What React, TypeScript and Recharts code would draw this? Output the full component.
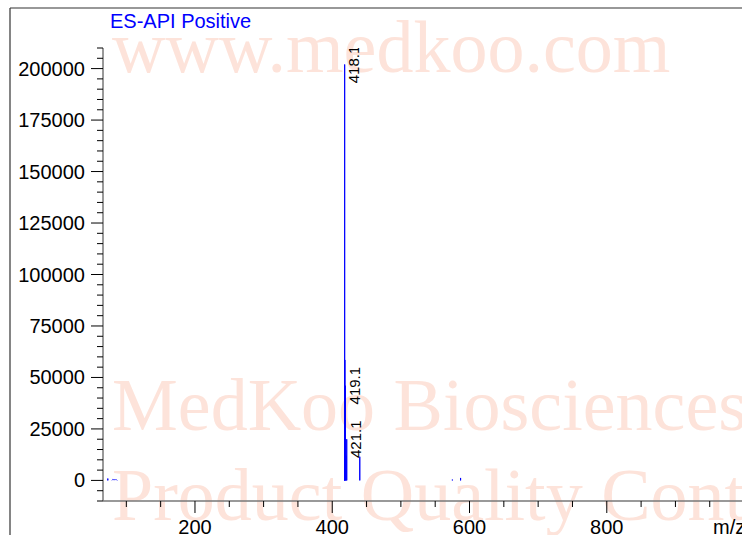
import React from 'react';
import { ComposedChart, Line, Scatter, XAxis, YAxis } from 'recharts';

// m/z sticks (centroid peaks)
const peakMz = [73, 417.9, 418.1, 418.4, 419.1, 420.1, 421.1, 440.1, 575, 587];
const peakIntensity = [900, 26000, 202000, 58500, 46000, 12000, 20000, 11500, 400, 1200];

// low-level baseline noise segment near m/z 80
const noiseMz = [79, 80, 82, 84, 86, 87];
const noiseIntensity = [0, 500, 300, 400, 300, 0];

// annotated peaks
const labelMz = [418.1, 419.1, 421.1];
const labelIntensity = [202000, 46000, 20000];
const labelText = ['418.1', '419.1', '421.1'];

const xTicks = [100, 150, 200, 250, 300, 350, 400, 450, 500, 550, 600, 650, 700, 750, 800, 850, 900, 950];
const xMajorTicks = [200, 400, 600, 800];
const yTicks = [
  -10000, -5000, 0, 5000, 10000, 15000, 20000, 25000, 30000, 35000, 40000, 45000, 50000,
  55000, 60000, 65000, 70000, 75000, 80000, 85000, 90000, 95000, 100000, 105000, 110000,
  115000, 120000, 125000, 130000, 135000, 140000, 145000, 150000, 155000, 160000, 165000,
  170000, 175000, 180000, 185000, 190000, 195000, 200000, 205000, 210000,
];
const yMajorTicks = [0, 25000, 50000, 75000, 100000, 125000, 150000, 175000, 200000];

const FONT = '"Liberation Sans", Arial, sans-serif';
const SERIF = '"Liberation Serif", "Times New Roman", serif';
const WATERMARK = '#fde3da';

type Pt = { mz: number; i: number | null };
const stickData: Pt[] = [];
peakMz.forEach((m, k) => {
  stickData.push({ mz: m, i: 0 }, { mz: m, i: peakIntensity[k] }, { mz: m, i: 0 }, { mz: m, i: null });
});
const noiseData: Pt[] = noiseMz.map((m, k) => ({ mz: m, i: noiseIntensity[k] }));
const labelData = labelMz.map((m, k) => ({ mz: m, i: labelIntensity[k], text: labelText[k] }));

const XTick = (props: any) => {
  const { x, y, payload } = props;
  const major = xMajorTicks.includes(payload.value);
  return (
    <g>
      <line x1={x} x2={x} y1={y} y2={y + (major ? 12 : 6)} stroke="#000" strokeWidth={1} />
      {major && (
        <text x={x} y={y + 33} textAnchor="middle" fontSize={20} fontFamily={FONT} fill="#000">
          {payload.value}
        </text>
      )}
    </g>
  );
};

const YTick = (props: any) => {
  const { x, y, payload } = props;
  const major = yMajorTicks.includes(payload.value);
  return (
    <g>
      <line x1={x - (major ? 12 : 6)} x2={x} y1={y} y2={y} stroke="#000" strokeWidth={1} />
      {major && (
        <text x={x - 18} y={y + 7} textAnchor="end" fontSize={20} fontFamily={FONT} fill="#000">
          {payload.value}
        </text>
      )}
    </g>
  );
};

const PeakLabel = (props: any) => {
  const { cx, cy, payload } = props;
  if (cx == null || cy == null) return <g />;
  const lx = cx + 9;
  return (
    <text
      x={lx}
      y={cy}
      transform={`rotate(-90 ${lx} ${cy})`}
      textAnchor="middle"
      dominantBaseline="central"
      fontSize={15}
      fontFamily={FONT}
      fill="#000"
    >
      {payload.text}
    </text>
  );
};

export default function App() {
  return (
    <div style={{ position: 'fixed', left: 0, top: 0, width: 742, height: 535, overflow: 'hidden', background: '#fff' }}>
      <svg width={742} height={535} style={{ position: 'absolute', left: 0, top: 0 }}>
        <line x1={10} y1={8} x2={742} y2={8} stroke="#333" strokeWidth={1.2} />
        <line x1={10} y1={8} x2={10} y2={535} stroke="#333" strokeWidth={1.2} />
        <text x={112} y={72} fontFamily={SERIF} fontSize={74} fill={WATERMARK}>www.medkoo.com</text>
        <text x={112} y={430} fontFamily={SERIF} fontSize={74} fill={WATERMARK}>MedKoo Biosciences</text>
        <text x={112} y={520} fontFamily={SERIF} fontSize={74} fill={WATERMARK}>Product Quality Control</text>
        <text x={110} y={28} fontFamily={FONT} fontSize={20} fill="#0000ff">ES-API Positive</text>
        <text x={713} y={534} fontFamily={FONT} fontSize={20} fill="#000">m/z</text>
      </svg>
      <div style={{ position: 'absolute', left: 0, top: 0 }}>
        <ComposedChart width={742} height={535} margin={{ top: 48, right: 0, bottom: 0, left: 10 }}>
          <XAxis
            type="number"
            dataKey="mz"
            domain={[66, 997]}
            allowDataOverflow
            ticks={xTicks}
            interval={0}
            tick={<XTick />}
            tickLine={false}
            tickSize={0}
            tickMargin={0}
            axisLine={{ stroke: '#777', strokeWidth: 1.5 }}
            height={34}
          />
          <YAxis
            type="number"
            dataKey="i"
            domain={[-10000, 210000]}
            allowDataOverflow
            ticks={yTicks}
            interval={0}
            tick={<YTick />}
            tickLine={false}
            tickSize={0}
            tickMargin={0}
            axisLine={{ stroke: '#777', strokeWidth: 1.5 }}
            width={93}
          />
          <Line
            data={noiseData}
            dataKey="i"
            stroke="#4040ff"
            strokeWidth={1}
            dot={false}
            isAnimationActive={false}
            type="linear"
          />
          <Line
            data={stickData}
            dataKey="i"
            stroke="#0000ff"
            strokeWidth={1}
            dot={false}
            connectNulls={false}
            isAnimationActive={false}
            type="linear"
          />
          <Scatter data={labelData} dataKey="i" shape={<PeakLabel />} isAnimationActive={false} />
        </ComposedChart>
      </div>
    </div>
  );
}
